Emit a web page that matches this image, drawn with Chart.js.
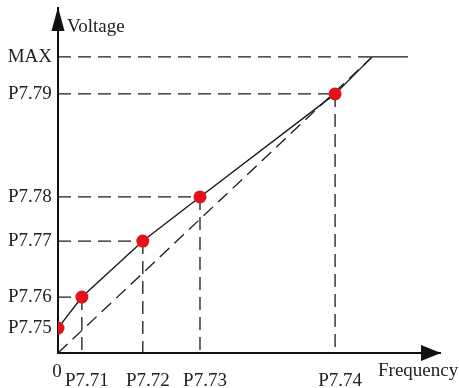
<!DOCTYPE html>
<html>
<head>
<meta charset="utf-8">
<script src="https://cdn.jsdelivr.net/npm/chart.js@4/dist/chart.umd.min.js"></script>
<style>
  html, body { margin: 0; padding: 0; background: #fff; }
  #wrap { width: 459px; height: 388px; }
</style>
</head>
<body>
<div id="wrap"><canvas id="vf"></canvas></div>
<script>
// tick positions and their labels ("0" sits at the origin)
const freqTicks = [3.8, 13.5, 22.6, 44.1];
const freqLabels = ['P7.71', 'P7.72', 'P7.73', 'P7.74'];
const voltTicks = [8.4, 18.9, 37.8, 52.7, 87.5, 100];
const voltLabels = ['P7.75', 'P7.76', 'P7.77', 'P7.78', 'P7.79', 'MAX'];

// V/F curve (set points, then up to max and flat)
const curveFreq = [0, 3.8, 13.5, 22.6, 44.1, 50, 55.7];
const curveVolt = [8.4, 18.9, 37.8, 52.7, 87.5, 100, 100];

// straight V/F line from origin to max
const linearFreq = [0, 50];
const linearVolt = [0, 100];

const nSetPoints = 5;

const ink = '#1a1a1a';
const dash = [13, 7];

const toXY = (xs, ys) => xs.map((x, i) => ({ x: x, y: ys[i] }));

// dashed helper lines from the set points back to the axes
const guides = [];
for (let i = 1; i < nSetPoints; i++) {
  guides.push([{ x: 0, y: curveVolt[i] }, { x: curveFreq[i], y: curveVolt[i] }]);
  guides.push([{ x: curveFreq[i], y: curveVolt[i] }, { x: curveFreq[i], y: 0 }]);
}
guides.push([{ x: 0, y: linearVolt[1] }, { x: linearFreq[1], y: linearVolt[1] }]);

const datasets = [
  {
    data: toXY(curveFreq, curveVolt).slice(0, nSetPoints),
    showLine: false,
    pointRadius: 6.5,
    pointBackgroundColor: '#e3111b',
    pointBorderWidth: 0
  },
  {
    data: toXY(curveFreq, curveVolt),
    showLine: true,
    borderColor: ink,
    borderWidth: 1.4,
    pointRadius: 0
  },
  {
    data: toXY(linearFreq, linearVolt),
    showLine: true,
    borderColor: ink,
    borderWidth: 1.3,
    borderDash: dash,
    pointRadius: 0
  }
];
guides.forEach(g => datasets.push({
  data: g,
  showLine: true,
  borderColor: ink,
  borderWidth: 1.3,
  borderDash: dash,
  pointRadius: 0
}));

// arrows at the axis ends, origin label and the axis names
const axisDecor = {
  id: 'axisDecor',
  afterDraw(chart) {
    const { ctx, chartArea: a } = chart;
    ctx.save();
    ctx.fillStyle = '#111';
    ctx.beginPath();
    ctx.moveTo(a.left, a.top - 1);
    ctx.lineTo(a.left - 6.5, a.top + 23);
    ctx.lineTo(a.left + 6.5, a.top + 23);
    ctx.closePath();
    ctx.fill();
    ctx.beginPath();
    ctx.moveTo(a.right + 1, a.bottom);
    ctx.lineTo(a.right - 19, a.bottom - 8);
    ctx.lineTo(a.right - 19, a.bottom + 8);
    ctx.closePath();
    ctx.fill();
    ctx.font = '19px "Liberation Serif"';
    ctx.fillStyle = '#222';
    ctx.textBaseline = 'alphabetic';
    ctx.textAlign = 'center';
    ctx.fillText('0', a.left - 1, a.bottom + 24);
    ctx.textAlign = 'left';
    ctx.fillText('Voltage', a.left + 9, a.top + 24);
    ctx.fillText('Frequency', a.right - 62, a.bottom + 23);
    ctx.restore();
  }
};

const tickFont = { family: '"Liberation Serif"', size: 19 };

const fixX = s => { s.height = 35; s.paddingLeft = 0; s.paddingRight = 0; };
const fixY = s => { s.width = 58; s.paddingTop = 0; s.paddingBottom = 0; };

new Chart(document.getElementById('vf'), {
  type: 'scatter',
  data: { datasets: datasets },
  options: {
    responsive: true,
    maintainAspectRatio: false,
    animation: false,
    layout: { padding: { top: 8, right: 19, left: 0, bottom: 0 } },
    plugins: {
      legend: { display: false },
      tooltip: { enabled: false }
    },
    elements: { line: { tension: 0 } },
    scales: {
      x: {
        type: 'linear',
        min: 0,
        max: 60.8,
        afterBuildTicks: s => { s.ticks = freqTicks.map(v => ({ value: v })); },
        afterFit: fixX,
        ticks: {
          autoSkip: false,
          maxRotation: 0,
          padding: 17,
          labelOffset: 5,
          color: '#222',
          font: tickFont,
          callback: (v, i) => freqLabels[i]
        },
        grid: { color: 'transparent', drawTicks: false },
        border: { display: true, color: '#111', width: 2 }
      },
      y: {
        type: 'linear',
        min: 0,
        max: 116.5,
        afterBuildTicks: s => { s.ticks = voltTicks.map(v => ({ value: v })); },
        afterFit: fixY,
        ticks: {
          autoSkip: false,
          padding: 6,
          crossAlign: 'center',
          color: '#222',
          font: tickFont,
          callback: (v, i) => voltLabels[i]
        },
        grid: { color: 'transparent', drawTicks: false },
        border: { display: true, color: '#111', width: 2 }
      }
    }
  },
  plugins: [axisDecor]
});
</script>
</body>
</html>
